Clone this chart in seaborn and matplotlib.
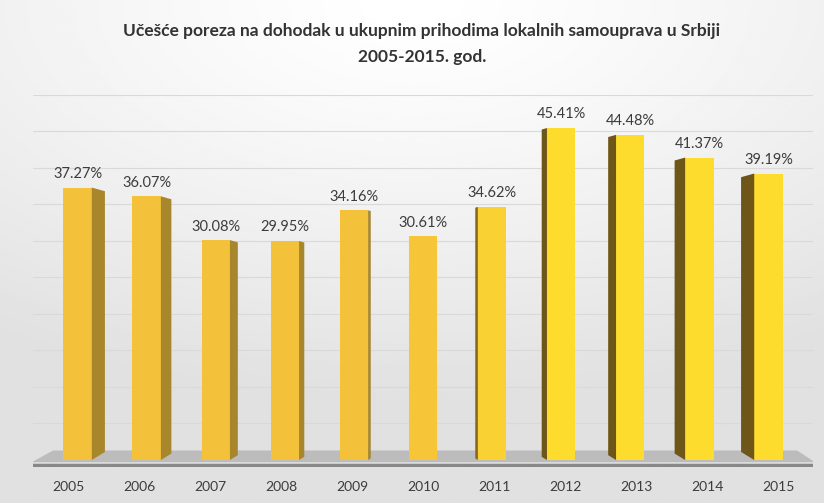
import numpy as np
import matplotlib
matplotlib.use("Agg")
import matplotlib.pyplot as plt
import seaborn as sns
import pandas as pd
from matplotlib.patches import Polygon
from matplotlib.colors import to_rgb

# ---- data ----
years = ["2005", "2006", "2007", "2008", "2009", "2010",
         "2011", "2012", "2013", "2014", "2015"]
shares = [37.27, 36.07, 30.08, 29.95, 34.16, 30.61,
          34.62, 45.41, 44.48, 41.37, 39.19]
value_labels = ["37.27%", "36.07%", "30.08%", "29.95%", "34.16%", "30.61%",
                "34.62%", "45.41%", "44.48%", "41.37%", "39.19%"]
title_lines = ["Učešće poreza na dohodak u ukupnim prihodima lokalnih samouprava u Srbiji",
               "2005-2015. god."]

sns.set_theme(style="white")
plt.rcParams['font.family'] = ['Lato', 'DejaVu Sans']

W, H = 824, 503
fig = plt.figure(figsize=(W / 100, H / 100), dpi=100)

# background gradient
bg = fig.add_axes([0, 0, 1, 1], zorder=-10)
yy, xx = np.mgrid[0:1:300j, 0:1:500j]
d = np.sqrt(((xx - 0.5) * 1.1) ** 2 + (yy * 1.25) ** 2)
shade = 1 - 0.12 * np.clip(d, 0, 1) ** 1.3
bg.imshow(shade, cmap='gray', vmin=0, vmax=1, extent=[0, 1, 0, 1],
          aspect='auto', origin='upper')
bg.axis('off')

# axes
x_left, x_right = 32.5, 813.5
y_bot, y_top = 467.3, 94.5
ax = fig.add_axes([x_left / W, (H - y_bot) / H, (x_right - x_left) / W, (y_bot - y_top) / H])
ax.patch.set_alpha(0)

n = len(years)
center = (n - 1) / 2
gold = np.array(to_rgb("#F4C13B"))
lemon = np.array(to_rgb("#FDDC2E"))
side_gold = np.array(to_rgb("#A8862C"))
side_dark = np.array(to_rgb("#6E5618"))
blend = [float(np.clip((i - 4.5) / 2.5, 0, 1)) for i in range(n)]
front_colors = [tuple(gold * (1 - b) + lemon * b) for b in blend]
side_colors = [tuple(side_gold * (1 - b) + side_dark * b) for b in blend]

df = pd.DataFrame({"year": years, "share": shares})
sns.barplot(data=df, x="year", y="share", hue="year", palette=front_colors,
            width=0.4, legend=False, ax=ax, saturation=1, zorder=3,
            linewidth=0)

ax.set_xlim(-0.5, n - 0.5)
ax.set_ylim(-1.0, 50)

# floor
floor = Polygon([(-0.21, 1.3), (10.27, 1.3), (10.52, -0.3), (-0.51, -0.3)],
                closed=True, facecolor="#bcbcbc", edgecolor="none", zorder=1)
ax.add_patch(floor)
ax.plot([-0.51, 10.52], [-0.75, -0.75], color="#888888", lw=2.5, zorder=2,
        solid_capstyle='butt')

# 3D side faces and labels
for i, p in enumerate(ax.patches[:n]):
    if not hasattr(p, "get_height"):
        continue
    shift = (center - i) * 0.027
    p.set_x(p.get_x() + shift)
    h = p.get_height()
    x0 = p.get_x()
    w = p.get_width()
    dx = (center - i) * 0.037
    xe = x0 + w if dx > 0 else x0
    k = abs(dx) / 0.185
    side = Polygon([(xe, 0), (xe + dx, 1.1 * k), (xe + dx, h - 0.5 * k), (xe, h)],
                   closed=True, facecolor=side_colors[i], edgecolor="none", zorder=3)
    ax.add_patch(side)
    ax.text(x0 + w / 2, h + 0.9, value_labels[i], ha='center', va='bottom',
            fontsize=10.5, color='#3c3c3c', zorder=5)

ax.set_yticks(np.arange(5, 51, 5))
ax.set_yticklabels([])
ax.yaxis.grid(True, color="#d9d9d9", lw=0.8, zorder=0)
ax.xaxis.grid(False)
ax.set_axisbelow(True)
ax.tick_params(axis='x', length=0, pad=10, labelsize=10, labelcolor='#3c3c3c')
ax.tick_params(axis='y', length=0)
ax.set_xlabel("")
ax.set_ylabel("")
for s in ax.spines.values():
    s.set_visible(False)

fig.text(0.512, 1 - 31 / H, title_lines[0], ha='center', va='center',
         fontsize=12.5, fontweight='bold', color='#333333')
fig.text(0.512, 1 - 57 / H, title_lines[1], ha='center', va='center',
         fontsize=12.5, fontweight='bold', color='#333333')

fig.savefig("out.png", dpi=100)
